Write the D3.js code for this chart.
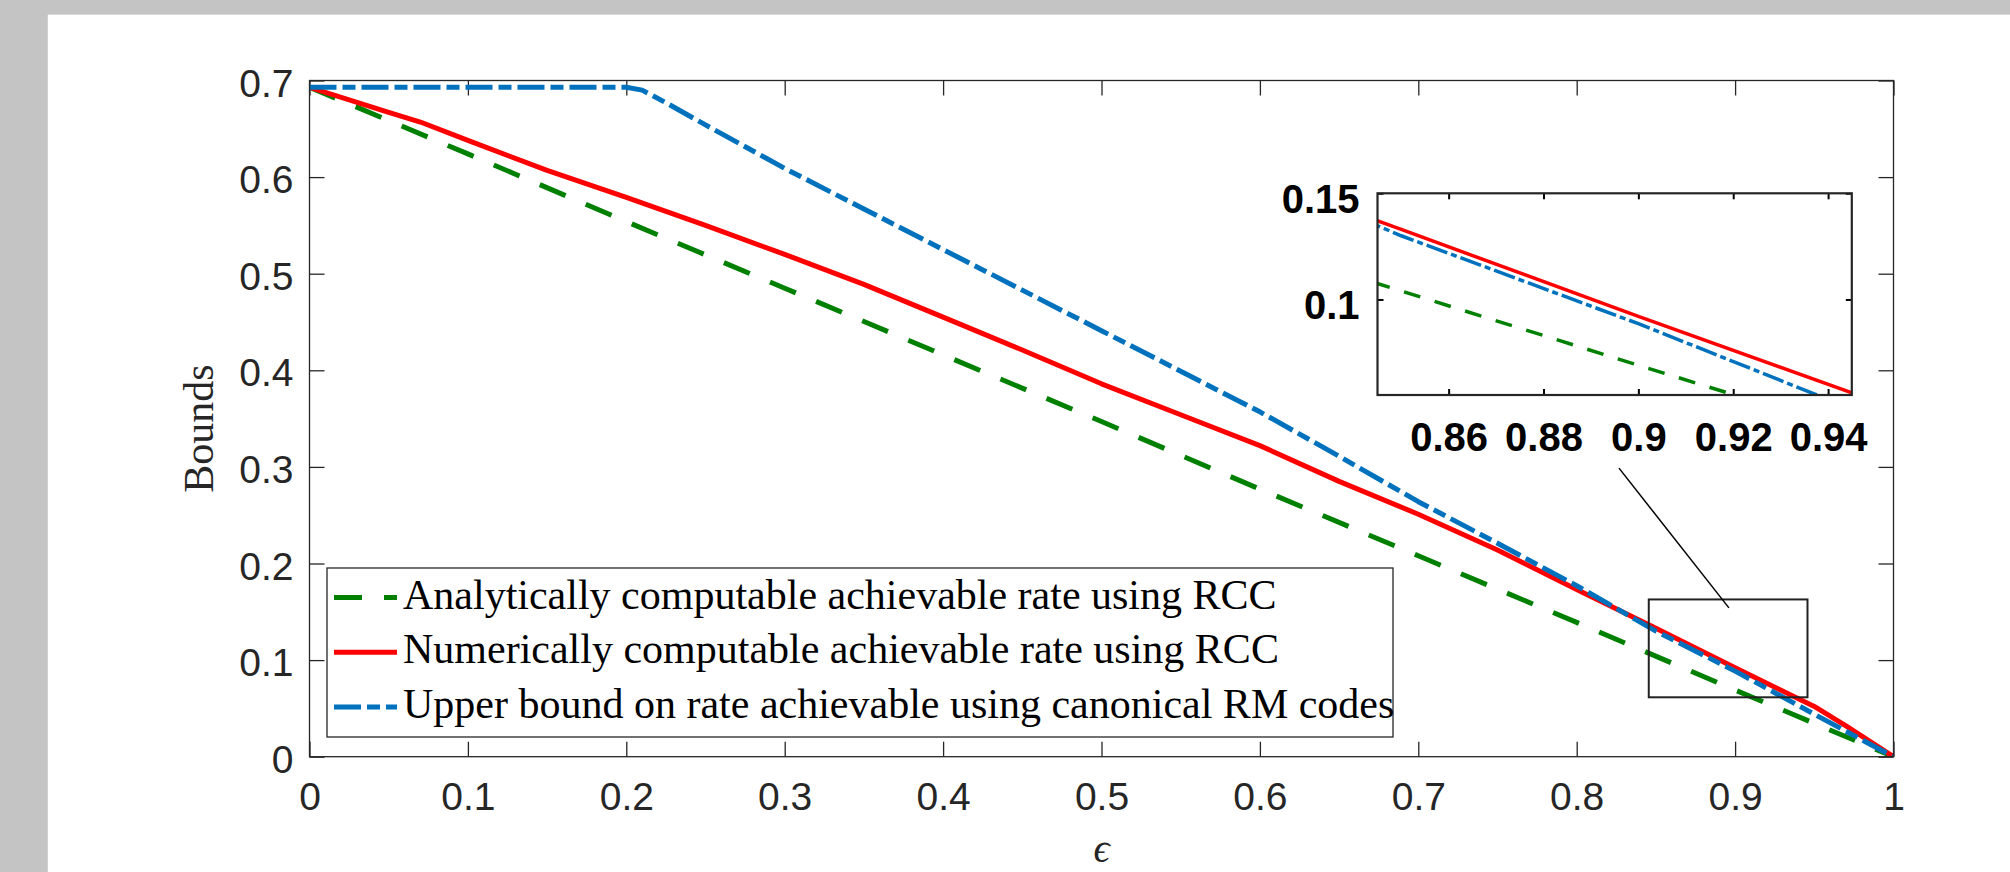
<!DOCTYPE html>
<html>
<head>
<meta charset="utf-8">
<script src="https://cdn.jsdelivr.net/npm/d3@7"></script>
<style>
  body { margin: 0; background: #c3c4c3; }
  svg { display: block; }
  .tick text { fill: #262626; }
</style>
</head>
<body>
<script>
// values
var xTicks = [0, 0.1, 0.2, 0.3, 0.4, 0.5, 0.6, 0.7, 0.8, 0.9, 1];
var yTicks = [0, 0.1, 0.2, 0.3, 0.4, 0.5, 0.6, 0.7];
var insetXTicks = [0.86, 0.88, 0.9, 0.92, 0.94];
var insetYTicks = [0.1, 0.15];
var insetXDomain = [0.845, 0.945];
var insetYDomain = [0.055, 0.15];

// analytically computable achievable rate (green, dashed)
var analyticEps  = [0, 0.1, 0.2, 0.3, 0.4, 0.5, 0.6, 0.7, 0.8, 0.9, 1];
var analyticRate = [0.693, 0.624, 0.554, 0.485, 0.416, 0.347, 0.277, 0.208, 0.139, 0.069, 0];

// numerically computable achievable rate (red, solid)
var numericEps  = [0, 0.05, 0.07, 0.1, 0.15, 0.2, 0.25, 0.3, 0.35, 0.4, 0.45, 0.5, 0.55, 0.6, 0.65, 0.7, 0.75, 0.8, 0.85, 0.9, 0.95, 0.97, 1];
var numericRate = [0.693, 0.667, 0.657, 0.638, 0.607, 0.579, 0.550, 0.520, 0.489, 0.455, 0.421, 0.386, 0.354, 0.322, 0.285, 0.251, 0.214, 0.173, 0.133, 0.092, 0.052, 0.032, 0];

// upper bound for canonical RM codes (blue, dash-dot)
var rmEps  = [0, 0.05, 0.1, 0.15, 0.2, 0.21, 0.225, 0.25, 0.3, 0.35, 0.4, 0.45, 0.5, 0.55, 0.6, 0.65, 0.7, 0.75, 0.8, 0.85, 0.9, 0.95, 1];
var rmRate = [0.693, 0.693, 0.693, 0.693, 0.693, 0.690, 0.677, 0.654, 0.609, 0.567, 0.525, 0.483, 0.441, 0.399, 0.357, 0.311, 0.264, 0.221, 0.177, 0.130, 0.0886, 0.044, 0];

var legendLabels = [
  "Analytically computable achievable rate using RCC",
  "Numerically computable achievable rate using RCC",
  "Upper bound on rate achievable using canonical RM codes"
];

// zoom rectangle and pointer, in data units of the main axes
var zoomBoxEps = [0.8455, 0.9457];
var zoomBoxRate = [0.0615, 0.1628];
var pointerEps = [0.8267, 0.8961];
var pointerRate = [0.2987, 0.1541];

var series = [
  { eps: analyticEps, rate: analyticRate, color: "#008000", dash: "28,22", insetDash: "17,15" },
  { eps: numericEps,  rate: numericRate,  color: "#ff0000", dash: null,    insetDash: null },
  { eps: rmEps,       rate: rmRate,       color: "#0072bd", dash: "27,6,13,6", insetDash: "22,4,6,4" }
];

var width = 2010, height = 872;
var margin = {top: 80.5, right: 116.5, bottom: 115.3, left: 309.5};
var innerW = width - margin.left - margin.right,
    innerH = height - margin.top - margin.bottom;

var svg = d3.select("body")
  .append("svg")
    .attr("width", width)
    .attr("height", height);

// grey figure frame and white paper
svg.append("rect").attr("width", width).attr("height", height).attr("fill", "#c3c4c3");
svg.append("rect").attr("x", 47.8).attr("y", 14.7)
  .attr("width", width - 47.8).attr("height", height - 14.7).attr("fill", "#ffffff");

var x = d3.scaleLinear().domain([0, 1]).range([0, innerW]);
var y = d3.scaleLinear().domain([0, 0.7]).range([innerH, 0]);

var g = svg.append("g").attr("transform", "translate(" + margin.left + "," + margin.top + ")");

svg.append("clipPath").attr("id", "mainClip")
  .append("rect").attr("width", innerW).attr("height", innerH);

var fmt = function(d) { return d3.format("")(+d.toFixed(2)); };

// axes with inward ticks on all four sides
function styleAxis(sel, fontSize, weight, color) {
  sel.select(".domain").remove();
  sel.selectAll(".tick line").attr("stroke", color).attr("stroke-width", 1.3);
  sel.selectAll(".tick text")
    .style("font-family", "'Liberation Sans', Arial, Helvetica, sans-serif")
    .style("font-size", fontSize + "px")
    .style("font-weight", weight)
    .style("fill", color);
}

g.append("g").attr("transform", "translate(0," + innerH + ")")
  .call(d3.axisBottom(x).tickValues(xTicks).tickFormat(fmt).tickSizeInner(-15).tickSizeOuter(0).tickPadding(26))
  .call(styleAxis, 39, "normal", "#262626");
g.append("g")
  .call(d3.axisTop(x).tickValues(xTicks).tickFormat("").tickSizeInner(-15).tickSizeOuter(0))
  .call(styleAxis, 39, "normal", "#262626");
g.append("g")
  .call(d3.axisLeft(y).tickValues(yTicks).tickFormat(fmt).tickSizeInner(-15).tickSizeOuter(0).tickPadding(16))
  .call(styleAxis, 39, "normal", "#262626")
  .selectAll(".tick text").attr("dy", "0.4em");
g.append("g").attr("transform", "translate(" + innerW + ",0)")
  .call(d3.axisRight(y).tickValues(yTicks).tickFormat("").tickSizeInner(-15).tickSizeOuter(0))
  .call(styleAxis, 39, "normal", "#262626");

// curves
var plot = g.append("g").attr("clip-path", "url(#mainClip)");
series.forEach(function(s) {
  var pts = s.eps.map(function(e, i) { return [e, s.rate[i]]; });
  plot.append("path")
    .datum(pts)
    .attr("fill", "none")
    .attr("stroke", s.color)
    .attr("stroke-width", 5)
    .attr("stroke-dasharray", s.dash)
    .attr("stroke-linejoin", "round")
    .attr("d", d3.line().x(function(d) { return x(d[0]); }).y(function(d) { return y(d[1]); }));
});

// axes box
g.append("rect")
  .attr("width", innerW).attr("height", innerH)
  .attr("fill", "none").attr("stroke", "#262626").attr("stroke-width", 1.3);

// axis labels
svg.append("text")
  .attr("x", margin.left + x(0.5))
  .attr("y", margin.top + innerH + 105)
  .attr("text-anchor", "middle")
  .style("font-family", "'Liberation Serif', 'DejaVu Serif', serif")
  .style("font-style", "italic")
  .style("font-size", "40px")
  .style("fill", "#262626")
  .text("\u03F5");

svg.append("text")
  .attr("transform", "translate(213," + (margin.top + y(0.35) + 10) + ") rotate(-90)")
  .attr("text-anchor", "middle")
  .style("font-family", "'Liberation Serif', 'DejaVu Serif', serif")
  .style("font-size", "42px")
  .style("fill", "#262626")
  .text("Bounds");

// legend
var legend = svg.append("g").attr("transform", "translate(327,568)");
legend.append("rect")
  .attr("width", 1066).attr("height", 169)
  .attr("fill", "#ffffff").attr("stroke", "#262626").attr("stroke-width", 1.3);
series.forEach(function(s, i) {
  var row = legend.append("g").attr("transform", "translate(0," + (29.5 + i * 54.7) + ")");
  row.append("line")
    .attr("x1", 7).attr("x2", 70)
    .attr("stroke", s.color).attr("stroke-width", 5)
    .attr("stroke-dasharray", s.dash);
  row.append("text")
    .attr("x", 76).attr("y", 11)
    .style("font-family", "'Liberation Serif', 'Times New Roman', serif")
    .style("font-size", "42px")
    .style("fill", "#000000")
    .text(legendLabels[i]);
});

// zoom rectangle and pointer line
g.append("rect")
  .attr("x", x(zoomBoxEps[0])).attr("y", y(zoomBoxRate[1]))
  .attr("width", x(zoomBoxEps[1]) - x(zoomBoxEps[0]))
  .attr("height", y(zoomBoxRate[0]) - y(zoomBoxRate[1]))
  .attr("fill", "none").attr("stroke", "#222222").attr("stroke-width", 2);
g.append("line")
  .attr("x1", x(pointerEps[0])).attr("y1", y(pointerRate[0]))
  .attr("x2", x(pointerEps[1])).attr("y2", y(pointerRate[1]))
  .attr("stroke", "#000000").attr("stroke-width", 1.5);

// inset axes
var inset = {left: 1377.5, top: 193.3, width: 474.3, height: 201.7};
var ix = d3.scaleLinear().domain(insetXDomain).range([0, inset.width]);
var iy = d3.scaleLinear().domain(insetYDomain).range([inset.height, 0]);

svg.append("clipPath").attr("id", "insetClip")
  .append("rect").attr("width", inset.width).attr("height", inset.height);

var ig = svg.append("g").attr("transform", "translate(" + inset.left + "," + inset.top + ")");
ig.append("rect").attr("width", inset.width).attr("height", inset.height).attr("fill", "#ffffff");

var iplot = ig.append("g").attr("clip-path", "url(#insetClip)");
series.forEach(function(s) {
  var pts = s.eps.map(function(e, i) { return [e, s.rate[i]]; });
  iplot.append("path")
    .datum(pts)
    .attr("fill", "none")
    .attr("stroke", s.color)
    .attr("stroke-width", 3.5)
    .attr("stroke-dasharray", s.insetDash)
    .attr("d", d3.line().x(function(d) { return ix(d[0]); }).y(function(d) { return iy(d[1]); }));
});

ig.append("g").attr("transform", "translate(0," + inset.height + ")")
  .call(d3.axisBottom(ix).tickValues(insetXTicks).tickFormat(fmt).tickSizeInner(-6).tickSizeOuter(0).tickPadding(28))
  .call(styleAxis, 40, "bold", "#000000");
ig.append("g")
  .call(d3.axisTop(ix).tickValues(insetXTicks).tickFormat("").tickSizeInner(-6).tickSizeOuter(0))
  .call(styleAxis, 40, "bold", "#000000");
ig.append("g")
  .call(d3.axisLeft(iy).tickValues(insetYTicks).tickFormat(fmt).tickSizeInner(-6).tickSizeOuter(0).tickPadding(18))
  .call(styleAxis, 40, "bold", "#000000")
  .selectAll(".tick text").attr("dy", "0.48em");
ig.append("g").attr("transform", "translate(" + inset.width + ",0)")
  .call(d3.axisRight(iy).tickValues(insetYTicks).tickFormat("").tickSizeInner(-6).tickSizeOuter(0))
  .call(styleAxis, 40, "bold", "#000000");
ig.selectAll(".tick line").attr("stroke-width", 2);
ig.append("rect")
  .attr("width", inset.width).attr("height", inset.height)
  .attr("fill", "none").attr("stroke", "#262626").attr("stroke-width", 2.2);
</script>
</body>
</html>
